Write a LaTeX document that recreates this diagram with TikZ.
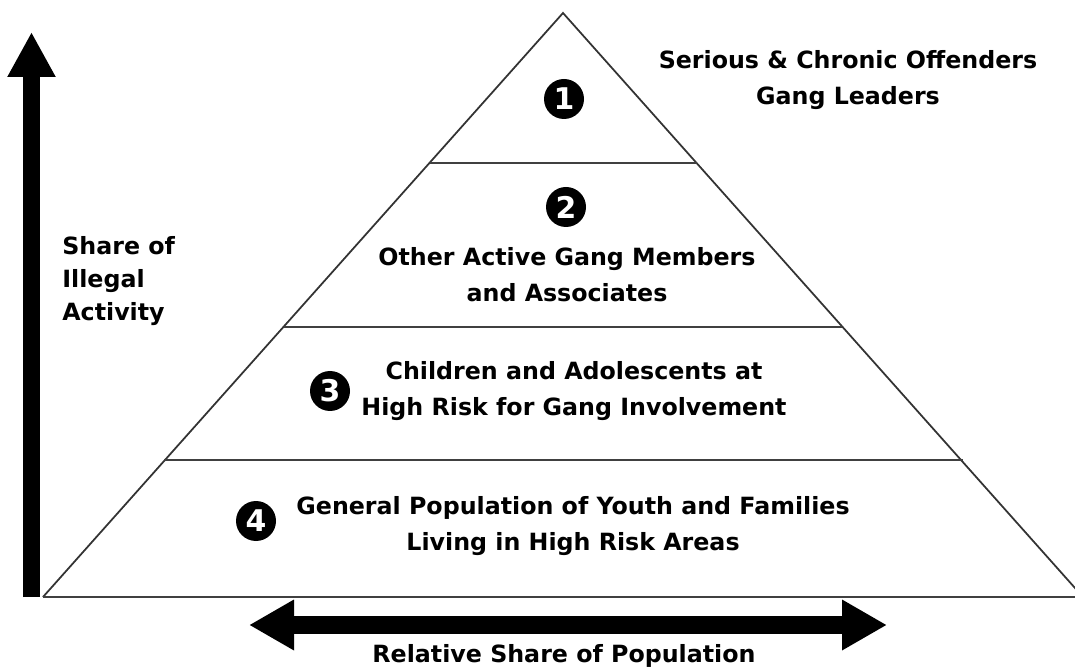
\documentclass[tikz,border=0pt]{standalone}
\usepackage{fontspec}
\setmainfont{DejaVu Sans}
\usetikzlibrary{arrows.meta}

\begin{document}
\begin{tikzpicture}[x=0.2mm,y=-0.2mm,
    txt/.style={font=\bfseries\fontsize{13.5}{20.5}\selectfont,inner sep=0pt,align=center},
    num/.style={circle,fill=black,text=white,inner sep=0pt,minimum size=8mm,
      font=\bfseries\fontsize{17}{17}\selectfont},
    level/.style={draw=black!75,line width=1.3pt},
    bigarrow/.style={line width=3.5mm,-{Triangle[length=9mm,width=9mm]}}]
  \useasboundingbox (0,0) rectangle (1075,671);
  \clip (0,0) rectangle (1075,671);

  % pyramid
  \coordinate (apex) at (563,13);
  \coordinate (bl) at (43,597);
  \coordinate (br) at (1083,597);
  \draw[black!80,line width=1pt] (bl) -- (apex) -- (br);
  \draw[level] (bl) -- (1075,597);
  \draw[level] (430,163) -- (697,163);
  \draw[level] (284,327) -- (842,327);
  \draw[level] (164,460) -- (963,460);

  % numbers
  \node[num] (n1) at (564,99) {1};
  \node[num] (n2) at (566,207) {2};
  \node[num] (n3) at (330,391) {3};
  \node[num] (n4) at (256,521) {4};

  % labels
  \node[txt] (lead) at (848,80) {Serious \& Chronic Offenders\\Gang Leaders};
  \node[txt] (memb) at (567,275) {Other Active Gang Members\\and Associates};
  \node[txt] (risk) at (574,391) {Children and Adolescents at\\High Risk for Gang Involvement};
  \node[txt] (gen)  at (573,526) {General Population of Youth and Families\\Living in High Risk Areas};
  \node[txt,align=left,anchor=west,font=\bfseries\fontsize{13.5}{18.8}\selectfont] (share) at (62,281) {Share of\\Illegal\\Activity};
  \node[txt] (pop) at (564,656) {Relative Share of Population};

  % axes
  \coordinate (vlow) at (31.5,597);
  \coordinate (vtop) at (31.5,32);
  \coordinate (hl) at (249,625);
  \coordinate (hr) at (887,625);
  \draw[bigarrow] (vlow) -- (vtop);
  \draw[bigarrow,line width=3.6mm,{Triangle[length=9mm,width=9.5mm]}-{Triangle[length=9mm,width=9.5mm]}] (hl) -- (hr);
\end{tikzpicture}
\end{document}
